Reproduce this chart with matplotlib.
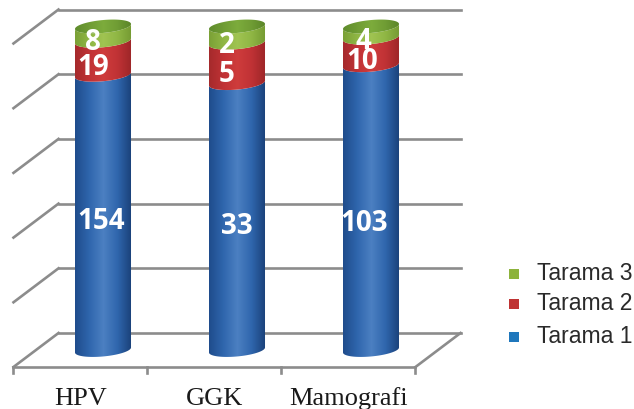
import numpy as np
import matplotlib
matplotlib.use("Agg")
import matplotlib.pyplot as plt
from matplotlib.colors import LinearSegmentedColormap
from matplotlib.path import Path
from matplotlib.patches import PathPatch, Rectangle

categories = ["HPV", "GGK", "Mamografi"]
series_names = ["Tarama 1", "Tarama 2", "Tarama 3"]
tarama1 = [154, 33, 103]
tarama2 = [19, 5, 10]
tarama3 = [8, 2, 4]
grid_levels = [0, 20, 40, 60, 80, 100]

BLUE = ("#1f4c8c", "#2f66ad", "#4c80c2", "#2f66ad", "#1a4078")
RED = ("#a52a2c", "#c03235", "#cf3c3c", "#c03235", "#9c2628")
GREEN = ("#7ba136", "#8fb644", "#a0c452", "#8fb644", "#749a32")
CAP = ("#5f8c2c", "#6f9c34", "#7dac3c", "#6f9c34", "#5a8428")
GRID = "#8c8c8c"
GRID_LW = 1.9

# one axes over the whole figure: x in category units, y in percent of the stack
PX_PER_CAT = 134.0
PX_PER_PCT = 3.235
DEPTH_X = 0.168
DEPTH_Y = 5.25
RADIUS = 0.209
BULGE = 2.0
TILT = 0.77

fig = plt.figure(figsize=(6.34, 4.09), dpi=100)
ax = fig.add_axes([0, 0, 1, 1])
ax.axis("off")


def front_arc(center, level):
    theta = np.linspace(np.pi, 2 * np.pi, 60)
    x = center + RADIUS * np.cos(theta)
    y = level + BULGE * np.sin(theta) + TILT * np.cos(theta)
    return x, y


def shade(path_patch, center, low, high, colors):
    cmap = LinearSegmentedColormap.from_list("cyl", colors)
    ax.add_patch(path_patch)
    img = ax.imshow(np.linspace(0, 1, 128).reshape(1, -1), cmap=cmap, aspect="auto",
                    extent=[center - RADIUS, center + RADIUS, low, high], zorder=3)
    img.set_clip_path(path_patch)


def draw_segment(center, y0, y1, colors):
    xb, yb = front_arc(center, y0)
    xt, yt = front_arc(center, y1)
    verts = np.vstack([np.column_stack([xb, yb]),
                       np.column_stack([xt[::-1], yt[::-1]]),
                       [[xb[0], yb[0]]]])
    patch = PathPatch(Path(verts), facecolor="none", edgecolor="none")
    shade(patch, center, y0 - 4, y1 + 4, colors)


def draw_cap(center, level, colors):
    theta = np.linspace(0, 2 * np.pi, 120)
    x = center + RADIUS * np.cos(theta)
    y = level + BULGE * np.sin(theta) + TILT * np.cos(theta)
    patch = PathPatch(Path(np.column_stack([x, y])), facecolor="none", edgecolor="none")
    shade(patch, center, level - 4, level + 4, colors)


# walls and floor
n = len(categories)
left, right = -0.5, n - 0.5
for level in grid_levels:
    ax.plot([left - DEPTH_X, left + DEPTH_X], [level - DEPTH_Y, level + DEPTH_Y],
            color=GRID, lw=GRID_LW, zorder=1)
    ax.plot([left + DEPTH_X, right + DEPTH_X], [level + DEPTH_Y, level + DEPTH_Y],
            color=GRID, lw=GRID_LW, zorder=1)
ax.plot([left - DEPTH_X, right - DEPTH_X], [-DEPTH_Y, -DEPTH_Y], color=GRID, lw=GRID_LW, zorder=1)
ax.plot([right - DEPTH_X, right + DEPTH_X], [-DEPTH_Y, DEPTH_Y], color=GRID, lw=GRID_LW, zorder=1)
for k in range(n + 1):
    ax.plot([left - DEPTH_X + k] * 2, [-DEPTH_Y, -DEPTH_Y - 2], color=GRID, lw=GRID_LW, zorder=1)

# stacked cylinders, normalised to 100 %
label_dodge = [[(-2, -9), (-10, -10), (-10, -9)],
               [(0, -10), (-10, -12), (-10, -11)],
               [(-7, -16), (-9, -10), (-8, -9)]]
for i, cat in enumerate(categories):
    vals = [tarama1[i], tarama2[i], tarama3[i]]
    total = sum(vals)
    base = 0.0
    for j, (v, colors) in enumerate(zip(vals, (BLUE, RED, GREEN))):
        top = base + v / total * 100
        draw_segment(i, base, top, colors)
        ax.annotate(str(v), (i, (base + top) / 2), xytext=label_dodge[i][j],
                    textcoords="offset pixels", ha="center", va="center", color="white",
                    fontsize=20, fontweight="bold", family="Open Sans", zorder=6)
        base = top
    draw_cap(i, 100, CAP)
    ax.text(i - DEPTH_X, -DEPTH_Y - 9.8, cat, ha="center", va="center",
            family="Liberation Serif", fontsize=19, color="#1a1a1a")

ax.set_xlim(-103 / PX_PER_CAT, (634 - 103) / PX_PER_CAT)
ax.set_ylim((350 - 409) / PX_PER_PCT, 350 / PX_PER_PCT)

# legend, top entry is the last series
legend_colors = ["#1f77bc", "#bf3333", "#8db33c"]
legend_y = [336.5, 303.5, 274]
label_shift = 1
for name, c, y in zip(series_names, legend_colors, legend_y):
    fig.patches.append(Rectangle((509 / 634, 1 - (y + 5) / 409), 10 / 634, 10 / 409,
                                 transform=fig.transFigure, facecolor=c, edgecolor="none"))
    fig.text(537 / 634, 1 - (y + label_shift - 1) / 409, name, ha="left", va="center",
             family="Liberation Sans", fontsize=16.5, color="#2a2a2a")

fig.savefig("out.png", dpi=100)
